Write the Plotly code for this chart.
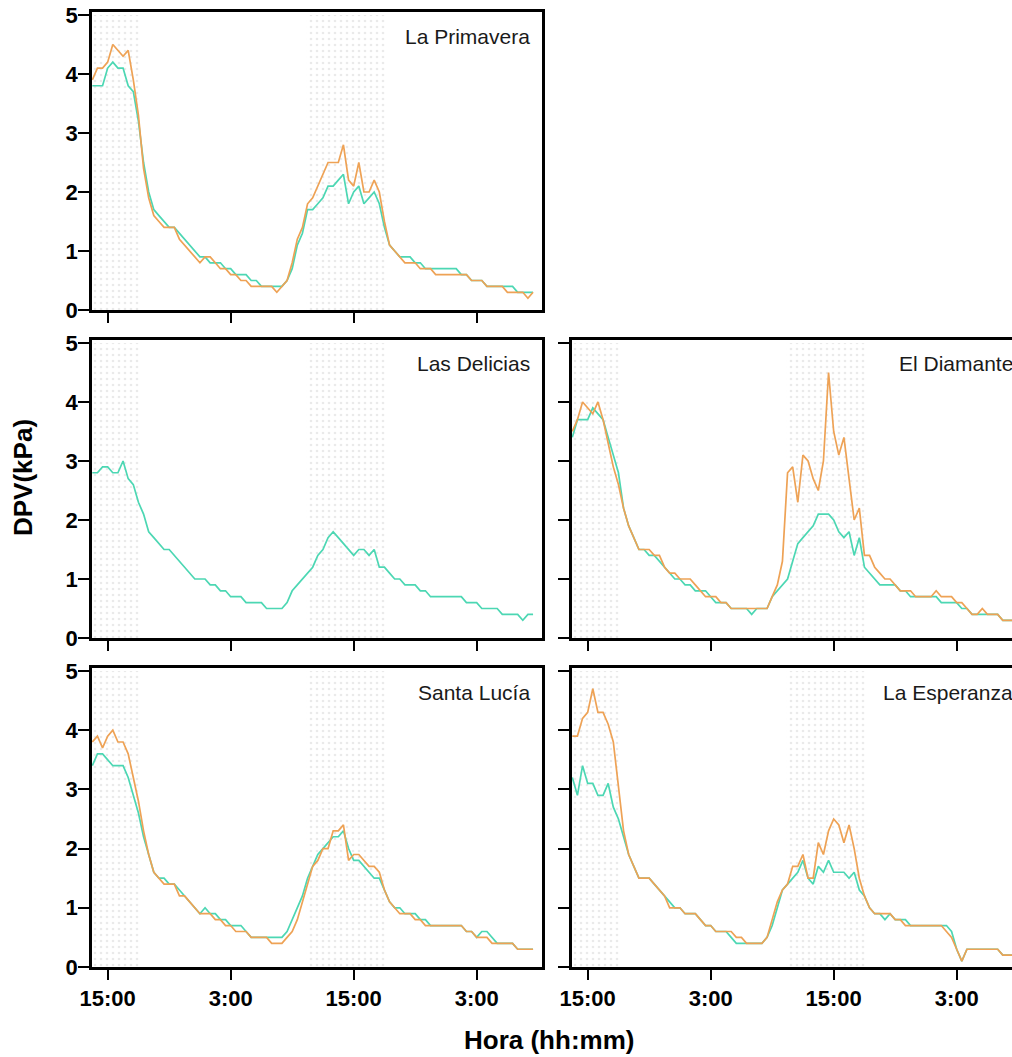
import numpy as np
import plotly.graph_objects as go

# Time axis: readings every 30 min, hours counted from 00:00 of day 1
hours = np.arange(13.5, 57.0, 0.5)

tick_hours = [15, 27, 39, 51]
tick_labels = ["15:00", "3:00", "15:00", "3:00"]
y_ticks = [0, 1, 2, 3, 4, 5]

# Daylight (shaded) periods in hours
shade_spans = [(13.47, 18.15), (34.4, 42.2)]

primavera_o = [3.9, 4.1, 4.1, 4.2, 4.5, 4.4, 4.3, 4.4, 3.9, 3.3,
               2.4, 1.9, 1.6, 1.5, 1.4, 1.4, 1.4, 1.2, 1.1, 1.0,
               0.9, 0.8, 0.9, 0.9, 0.8, 0.7, 0.7, 0.6, 0.6, 0.5,
               0.5, 0.4, 0.4, 0.4, 0.4, 0.4, 0.3, 0.4, 0.5, 0.8,
               1.2, 1.4, 1.8, 1.9, 2.1, 2.3, 2.5, 2.5, 2.5, 2.8,
               2.2, 2.1, 2.5, 2.0, 2.0, 2.2, 2.0, 1.5, 1.1, 1.0,
               0.9, 0.8, 0.8, 0.8, 0.7, 0.7, 0.7, 0.6, 0.6, 0.6,
               0.6, 0.6, 0.6, 0.6, 0.5, 0.5, 0.5, 0.4, 0.4, 0.4,
               0.4, 0.3, 0.3, 0.3, 0.3, 0.2, 0.3]
primavera_t = [3.8, 3.8, 3.8, 4.1, 4.2, 4.1, 4.1, 3.8, 3.7, 3.2,
               2.5, 2.0, 1.7, 1.6, 1.5, 1.4, 1.4, 1.3, 1.2, 1.1,
               1.0, 0.9, 0.9, 0.8, 0.8, 0.8, 0.7, 0.7, 0.6, 0.6,
               0.6, 0.5, 0.5, 0.4, 0.4, 0.4, 0.4, 0.4, 0.5, 0.7,
               1.1, 1.3, 1.7, 1.7, 1.8, 1.9, 2.1, 2.1, 2.2, 2.3,
               1.8, 2.0, 2.1, 1.8, 1.9, 2.0, 1.8, 1.4, 1.1, 1.0,
               0.9, 0.9, 0.9, 0.8, 0.8, 0.7, 0.7, 0.7, 0.7, 0.7,
               0.7, 0.7, 0.6, 0.6, 0.5, 0.5, 0.5, 0.4, 0.4, 0.4,
               0.4, 0.4, 0.4, 0.3, 0.3, 0.3, 0.3]

delicias_t = [2.8, 2.8, 2.9, 2.9, 2.8, 2.8, 3.0, 2.7, 2.6, 2.3,
              2.1, 1.8, 1.7, 1.6, 1.5, 1.5, 1.4, 1.3, 1.2, 1.1,
              1.0, 1.0, 1.0, 0.9, 0.9, 0.8, 0.8, 0.7, 0.7, 0.7,
              0.6, 0.6, 0.6, 0.6, 0.5, 0.5, 0.5, 0.5, 0.6, 0.8,
              0.9, 1.0, 1.1, 1.2, 1.4, 1.5, 1.7, 1.8, 1.7, 1.6,
              1.5, 1.4, 1.5, 1.5, 1.4, 1.5, 1.2, 1.2, 1.1, 1.0,
              1.0, 0.9, 0.9, 0.9, 0.8, 0.8, 0.7, 0.7, 0.7, 0.7,
              0.7, 0.7, 0.7, 0.6, 0.6, 0.6, 0.5, 0.5, 0.5, 0.5,
              0.4, 0.4, 0.4, 0.4, 0.3, 0.4, 0.4]

diamante_o = [3.5, 3.7, 4.0, 3.9, 3.8, 4.0, 3.7, 3.3, 2.9, 2.6,
              2.2, 1.9, 1.7, 1.5, 1.5, 1.5, 1.4, 1.4, 1.2, 1.1,
              1.1, 1.0, 1.0, 1.0, 0.9, 0.8, 0.7, 0.7, 0.7, 0.6,
              0.6, 0.5, 0.5, 0.5, 0.5, 0.5, 0.5, 0.5, 0.5, 0.7,
              0.9, 1.3, 2.8, 2.9, 2.3, 3.1, 3.0, 2.7, 2.5, 3.0,
              4.5, 3.5, 3.1, 3.4, 2.7, 2.0, 2.2, 1.4, 1.4, 1.2,
              1.1, 1.0, 1.0, 0.9, 0.8, 0.8, 0.8, 0.7, 0.7, 0.7,
              0.7, 0.8, 0.7, 0.7, 0.7, 0.6, 0.6, 0.5, 0.4, 0.4,
              0.5, 0.4, 0.4, 0.4, 0.3, 0.3, 0.3]
diamante_t = [3.4, 3.7, 3.7, 3.7, 3.9, 3.8, 3.7, 3.4, 3.1, 2.8,
              2.2, 1.9, 1.7, 1.5, 1.5, 1.4, 1.4, 1.3, 1.2, 1.1,
              1.0, 1.0, 0.9, 0.9, 0.8, 0.8, 0.8, 0.7, 0.6, 0.6,
              0.6, 0.5, 0.5, 0.5, 0.5, 0.4, 0.5, 0.5, 0.5, 0.7,
              0.8, 0.9, 1.0, 1.3, 1.6, 1.7, 1.8, 1.9, 2.1, 2.1,
              2.1, 2.0, 1.8, 1.7, 1.8, 1.4, 1.7, 1.2, 1.1, 1.0,
              0.9, 0.9, 0.9, 0.9, 0.8, 0.8, 0.7, 0.7, 0.7, 0.7,
              0.7, 0.7, 0.6, 0.6, 0.6, 0.6, 0.5, 0.5, 0.4, 0.4,
              0.4, 0.4, 0.4, 0.4, 0.3, 0.3, 0.3]

lucia_o = [3.8, 3.9, 3.7, 3.9, 4.0, 3.8, 3.8, 3.6, 3.2, 2.8,
           2.3, 1.9, 1.6, 1.5, 1.4, 1.4, 1.4, 1.2, 1.2, 1.1,
           1.0, 0.9, 0.9, 0.9, 0.8, 0.8, 0.7, 0.7, 0.6, 0.6,
           0.6, 0.5, 0.5, 0.5, 0.5, 0.4, 0.4, 0.4, 0.5, 0.6,
           0.8, 1.1, 1.4, 1.7, 1.8, 2.0, 2.0, 2.3, 2.3, 2.4,
           1.8, 1.9, 1.9, 1.8, 1.7, 1.7, 1.6, 1.3, 1.1, 1.0,
           0.9, 0.9, 0.9, 0.8, 0.8, 0.7, 0.7, 0.7, 0.7, 0.7,
           0.7, 0.7, 0.7, 0.6, 0.6, 0.5, 0.5, 0.5, 0.4, 0.4,
           0.4, 0.4, 0.4, 0.3, 0.3, 0.3, 0.3]
lucia_t = [3.4, 3.6, 3.6, 3.5, 3.4, 3.4, 3.4, 3.2, 2.9, 2.6,
           2.2, 1.9, 1.6, 1.5, 1.5, 1.4, 1.4, 1.3, 1.2, 1.1,
           1.0, 0.9, 1.0, 0.9, 0.9, 0.8, 0.8, 0.7, 0.7, 0.7,
           0.6, 0.5, 0.5, 0.5, 0.5, 0.5, 0.5, 0.5, 0.6, 0.8,
           1.0, 1.2, 1.5, 1.7, 1.9, 2.0, 2.1, 2.2, 2.2, 2.3,
           2.0, 1.8, 1.8, 1.7, 1.6, 1.5, 1.5, 1.3, 1.1, 1.0,
           1.0, 0.9, 0.9, 0.9, 0.8, 0.8, 0.7, 0.7, 0.7, 0.7,
           0.7, 0.7, 0.7, 0.6, 0.6, 0.5, 0.6, 0.6, 0.5, 0.4,
           0.4, 0.4, 0.4, 0.3, 0.3, 0.3, 0.3]

esperanza_o = [3.9, 3.9, 4.2, 4.3, 4.7, 4.3, 4.3, 4.1, 3.8, 3.0,
               2.3, 1.9, 1.7, 1.5, 1.5, 1.5, 1.4, 1.3, 1.2, 1.0,
               1.0, 1.0, 0.9, 0.9, 0.9, 0.8, 0.7, 0.7, 0.6, 0.6,
               0.6, 0.6, 0.5, 0.5, 0.4, 0.4, 0.4, 0.4, 0.5, 0.8,
               1.1, 1.3, 1.4, 1.7, 1.7, 1.9, 1.5, 1.5, 2.1, 1.9,
               2.3, 2.5, 2.4, 2.1, 2.4, 2.0, 1.5, 1.2, 1.0, 0.9,
               0.9, 0.9, 0.9, 0.8, 0.8, 0.7, 0.7, 0.7, 0.7, 0.7,
               0.7, 0.7, 0.7, 0.6, 0.5, 0.3, 0.1, 0.3, 0.3, 0.3,
               0.3, 0.3, 0.3, 0.3, 0.2, 0.2, 0.2]
esperanza_t = [3.2, 2.9, 3.4, 3.1, 3.1, 2.9, 2.9, 3.1, 2.7, 2.5,
               2.2, 1.9, 1.7, 1.5, 1.5, 1.5, 1.4, 1.3, 1.2, 1.1,
               1.0, 1.0, 0.9, 0.9, 0.9, 0.8, 0.7, 0.7, 0.6, 0.6,
               0.6, 0.5, 0.4, 0.4, 0.4, 0.4, 0.4, 0.4, 0.5, 0.7,
               1.0, 1.3, 1.4, 1.5, 1.6, 1.8, 1.5, 1.4, 1.7, 1.6,
               1.8, 1.6, 1.6, 1.6, 1.5, 1.6, 1.3, 1.2, 1.0, 0.9,
               0.9, 0.8, 0.9, 0.8, 0.8, 0.8, 0.7, 0.7, 0.7, 0.7,
               0.7, 0.7, 0.7, 0.7, 0.6, 0.3, 0.1, 0.3, 0.3, 0.3,
               0.3, 0.3, 0.3, 0.3, 0.2, 0.2, 0.2]

panel_names = ["La Primavera", "Las Delicias", "El Diamante", "Santa Lucía", "La Esperanza"]
teal_series = [primavera_t, delicias_t, diamante_t, lucia_t, esperanza_t]
orange_series = [primavera_o, None, diamante_o, lucia_o, esperanza_o]

TEAL = "#4cd7b3"
ORANGE = "#eea255"
W, H = 1012, 1057
FONT = "Arial, Liberation Sans, sans-serif"

# panel layout: (x pixel left, x pixel right, y pixel top, y pixel bottom, side, bottom-row)
panels = [
    (92, 542, 12, 310, "L", False),
    (92, 542, 340, 638, "L", False),
    (572, 1012, 340, 638, "R", False),
    (92, 542, 668, 967, "L", True),
    (572, 1012, 668, 967, "R", True),
]
px_per_hour = 10.25
x0 = 13.47

fig = go.Figure()
layout = dict(width=W, height=H, margin=dict(l=0, r=0, t=0, b=0, autoexpand=False),
              paper_bgcolor="white", plot_bgcolor="white", showlegend=False,
              font=dict(family=FONT, color="black"))
annotations = []

for i, (xl, xr, yt, yb, side, bottom) in enumerate(panels):
    n = "" if i == 0 else str(i + 1)
    xa, ya = "x" + n, "y" + n
    x1 = x0 + (xr - xl) / px_per_hour
    # shaded daylight periods
    for (s0, s1) in shade_spans:
        fig.add_trace(go.Scatter(x=[s0, s1, s1, s0, s0], y=[0, 0, 5.0, 5.0, 0],
                                 xaxis=xa, yaxis=ya, mode="none", fill="toself",
                                 fillcolor="rgba(0,0,0,0)",
                                 fillpattern=dict(shape=".", fgcolor="#d6d6d6",
                                                  bgcolor="rgba(255,255,255,0)",
                                                  size=6, solidity=0.15),
                                 hoverinfo="skip"))
    fig.add_trace(go.Scatter(x=hours, y=teal_series[i], xaxis=xa, yaxis=ya,
                             mode="lines", line=dict(color=TEAL, width=1.7)))
    if orange_series[i] is not None:
        fig.add_trace(go.Scatter(x=hours, y=orange_series[i], xaxis=xa, yaxis=ya,
                                 mode="lines", line=dict(color=ORANGE, width=1.7)))
    layout["xaxis" + n] = dict(
        domain=[xl / W, xr / W], range=[x0, x1], anchor=ya,
        showgrid=False, zeroline=False, showline=True, linecolor="black", linewidth=2.5,
        mirror=True, ticks="outside", ticklen=10, tickwidth=2, tickcolor="black",
        tickvals=tick_hours, ticktext=tick_labels, showticklabels=bottom,
        tickfont=dict(family=FONT, size=22, color="black", weight="bold"),
    )
    layout["yaxis" + n] = dict(
        domain=[1 - yb / H, 1 - yt / H], range=[0, 5.05], anchor=xa,
        showgrid=False, zeroline=False, showline=True, linecolor="black", linewidth=2.5,
        mirror=(side == "L"), ticks="outside", ticklen=11, tickwidth=2, tickcolor="black",
        tickvals=y_ticks, showticklabels=(side == "L"), ticklabelstandoff=-4,
        tickfont=dict(family=FONT, size=22, color="black", weight="bold"),
    )
    annotations.append(dict(
        text=panel_names[i], xref=xa + " domain", yref=ya + " domain",
        x=1, y=1, xanchor="right", yanchor="middle",
        xshift=(-10 if side == "L" else 3), yshift=-24, showarrow=False,
        font=dict(family=FONT, size=21, color="#1a1a1a"),
    ))

annotations.append(dict(text="DPV(kPa)", xref="paper", yref="paper",
                        x=23 / W, y=1 - 478 / H, textangle=-90, showarrow=False,
                        xanchor="center", yanchor="middle",
                        font=dict(family=FONT, size=26, color="black", weight="bold")))
annotations.append(dict(text="Hora (hh:mm)", xref="paper", yref="paper",
                        x=549 / W, y=1 - 1040 / H, showarrow=False,
                        xanchor="center", yanchor="middle",
                        font=dict(family=FONT, size=26, color="black", weight="bold")))
layout["annotations"] = annotations
fig.update_layout(**layout)
fig.write_html("out.html")
